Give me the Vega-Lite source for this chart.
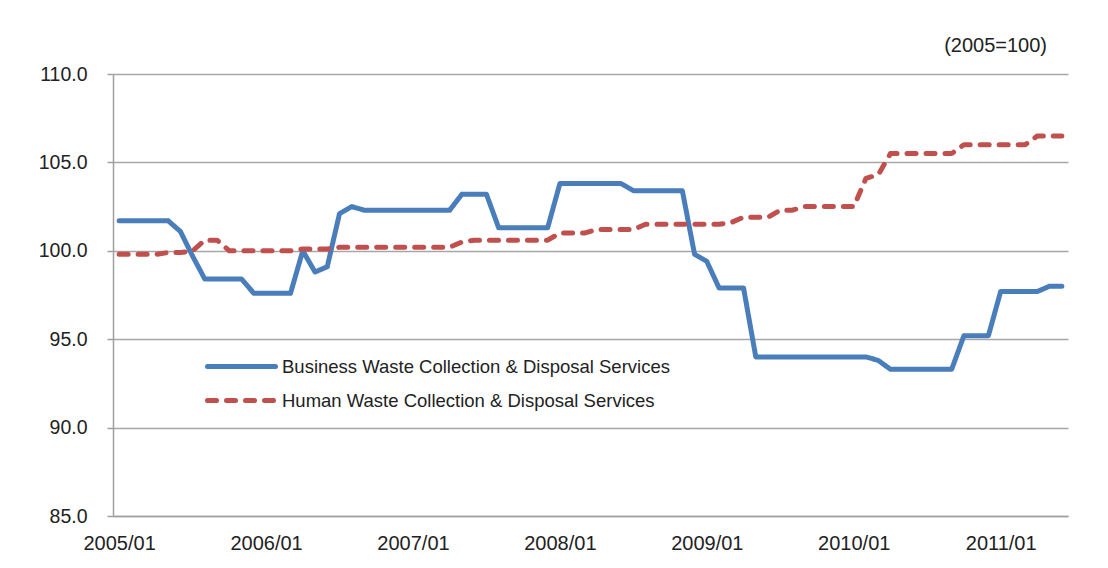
{
  "$schema": "https://vega.github.io/schema/vega-lite/v6.json",
  "autosize": {"type": "none"},
  "padding": {"left": 113, "top": 74, "right": 40, "bottom": 52},
  "width": 955,
  "height": 442,
  "background": "white",
  "title": {"text": "(2005=100)", "anchor": "end", "frame": "group", "dx": -21, "offset": 8, "fontSize": 20, "fontWeight": "normal", "color": "#222222", "font": "Liberation Sans"},
  "config": {
    "view": {"stroke": null},
    "font": "Liberation Sans",
    "legend": {
      "orient": "none", "legendX": 109, "legendY": 273, "padding": 0, "offset": 0,
      "symbolType": "M-2,0H2", "symbolSize": 1156, "symbolStrokeWidth": 5,
      "labelFontSize": 18.5, "labelColor": "#222222", "labelFont": "Liberation Sans", "labelOffset": 21,
      "rowPadding": 4, "labelLimit": 600
    }
  },
  "data": {"values": [
    {"m":"2005/01","s":"Business Waste Collection & Disposal Services","v":101.7},
    {"m":"2005/02","s":"Business Waste Collection & Disposal Services","v":101.7},
    {"m":"2005/03","s":"Business Waste Collection & Disposal Services","v":101.7},
    {"m":"2005/04","s":"Business Waste Collection & Disposal Services","v":101.7},
    {"m":"2005/05","s":"Business Waste Collection & Disposal Services","v":101.7},
    {"m":"2005/06","s":"Business Waste Collection & Disposal Services","v":101.1},
    {"m":"2005/07","s":"Business Waste Collection & Disposal Services","v":99.7},
    {"m":"2005/08","s":"Business Waste Collection & Disposal Services","v":98.4},
    {"m":"2005/09","s":"Business Waste Collection & Disposal Services","v":98.4},
    {"m":"2005/10","s":"Business Waste Collection & Disposal Services","v":98.4},
    {"m":"2005/11","s":"Business Waste Collection & Disposal Services","v":98.4},
    {"m":"2005/12","s":"Business Waste Collection & Disposal Services","v":97.6},
    {"m":"2006/01","s":"Business Waste Collection & Disposal Services","v":97.6},
    {"m":"2006/02","s":"Business Waste Collection & Disposal Services","v":97.6},
    {"m":"2006/03","s":"Business Waste Collection & Disposal Services","v":97.6},
    {"m":"2006/04","s":"Business Waste Collection & Disposal Services","v":100.0},
    {"m":"2006/05","s":"Business Waste Collection & Disposal Services","v":98.8},
    {"m":"2006/06","s":"Business Waste Collection & Disposal Services","v":99.1},
    {"m":"2006/07","s":"Business Waste Collection & Disposal Services","v":102.1},
    {"m":"2006/08","s":"Business Waste Collection & Disposal Services","v":102.5},
    {"m":"2006/09","s":"Business Waste Collection & Disposal Services","v":102.3},
    {"m":"2006/10","s":"Business Waste Collection & Disposal Services","v":102.3},
    {"m":"2006/11","s":"Business Waste Collection & Disposal Services","v":102.3},
    {"m":"2006/12","s":"Business Waste Collection & Disposal Services","v":102.3},
    {"m":"2007/01","s":"Business Waste Collection & Disposal Services","v":102.3},
    {"m":"2007/02","s":"Business Waste Collection & Disposal Services","v":102.3},
    {"m":"2007/03","s":"Business Waste Collection & Disposal Services","v":102.3},
    {"m":"2007/04","s":"Business Waste Collection & Disposal Services","v":102.3},
    {"m":"2007/05","s":"Business Waste Collection & Disposal Services","v":103.2},
    {"m":"2007/06","s":"Business Waste Collection & Disposal Services","v":103.2},
    {"m":"2007/07","s":"Business Waste Collection & Disposal Services","v":103.2},
    {"m":"2007/08","s":"Business Waste Collection & Disposal Services","v":101.3},
    {"m":"2007/09","s":"Business Waste Collection & Disposal Services","v":101.3},
    {"m":"2007/10","s":"Business Waste Collection & Disposal Services","v":101.3},
    {"m":"2007/11","s":"Business Waste Collection & Disposal Services","v":101.3},
    {"m":"2007/12","s":"Business Waste Collection & Disposal Services","v":101.3},
    {"m":"2008/01","s":"Business Waste Collection & Disposal Services","v":103.8},
    {"m":"2008/02","s":"Business Waste Collection & Disposal Services","v":103.8},
    {"m":"2008/03","s":"Business Waste Collection & Disposal Services","v":103.8},
    {"m":"2008/04","s":"Business Waste Collection & Disposal Services","v":103.8},
    {"m":"2008/05","s":"Business Waste Collection & Disposal Services","v":103.8},
    {"m":"2008/06","s":"Business Waste Collection & Disposal Services","v":103.8},
    {"m":"2008/07","s":"Business Waste Collection & Disposal Services","v":103.4},
    {"m":"2008/08","s":"Business Waste Collection & Disposal Services","v":103.4},
    {"m":"2008/09","s":"Business Waste Collection & Disposal Services","v":103.4},
    {"m":"2008/10","s":"Business Waste Collection & Disposal Services","v":103.4},
    {"m":"2008/11","s":"Business Waste Collection & Disposal Services","v":103.4},
    {"m":"2008/12","s":"Business Waste Collection & Disposal Services","v":99.8},
    {"m":"2009/01","s":"Business Waste Collection & Disposal Services","v":99.4},
    {"m":"2009/02","s":"Business Waste Collection & Disposal Services","v":97.9},
    {"m":"2009/03","s":"Business Waste Collection & Disposal Services","v":97.9},
    {"m":"2009/04","s":"Business Waste Collection & Disposal Services","v":97.9},
    {"m":"2009/05","s":"Business Waste Collection & Disposal Services","v":94.0},
    {"m":"2009/06","s":"Business Waste Collection & Disposal Services","v":94.0},
    {"m":"2009/07","s":"Business Waste Collection & Disposal Services","v":94.0},
    {"m":"2009/08","s":"Business Waste Collection & Disposal Services","v":94.0},
    {"m":"2009/09","s":"Business Waste Collection & Disposal Services","v":94.0},
    {"m":"2009/10","s":"Business Waste Collection & Disposal Services","v":94.0},
    {"m":"2009/11","s":"Business Waste Collection & Disposal Services","v":94.0},
    {"m":"2009/12","s":"Business Waste Collection & Disposal Services","v":94.0},
    {"m":"2010/01","s":"Business Waste Collection & Disposal Services","v":94.0},
    {"m":"2010/02","s":"Business Waste Collection & Disposal Services","v":94.0},
    {"m":"2010/03","s":"Business Waste Collection & Disposal Services","v":93.8},
    {"m":"2010/04","s":"Business Waste Collection & Disposal Services","v":93.3},
    {"m":"2010/05","s":"Business Waste Collection & Disposal Services","v":93.3},
    {"m":"2010/06","s":"Business Waste Collection & Disposal Services","v":93.3},
    {"m":"2010/07","s":"Business Waste Collection & Disposal Services","v":93.3},
    {"m":"2010/08","s":"Business Waste Collection & Disposal Services","v":93.3},
    {"m":"2010/09","s":"Business Waste Collection & Disposal Services","v":93.3},
    {"m":"2010/10","s":"Business Waste Collection & Disposal Services","v":95.2},
    {"m":"2010/11","s":"Business Waste Collection & Disposal Services","v":95.2},
    {"m":"2010/12","s":"Business Waste Collection & Disposal Services","v":95.2},
    {"m":"2011/01","s":"Business Waste Collection & Disposal Services","v":97.7},
    {"m":"2011/02","s":"Business Waste Collection & Disposal Services","v":97.7},
    {"m":"2011/03","s":"Business Waste Collection & Disposal Services","v":97.7},
    {"m":"2011/04","s":"Business Waste Collection & Disposal Services","v":97.7},
    {"m":"2011/05","s":"Business Waste Collection & Disposal Services","v":98.0},
    {"m":"2011/06","s":"Business Waste Collection & Disposal Services","v":98.0},
    {"m":"2005/01","s":"Human Waste Collection & Disposal Services","v":99.8},
    {"m":"2005/02","s":"Human Waste Collection & Disposal Services","v":99.8},
    {"m":"2005/03","s":"Human Waste Collection & Disposal Services","v":99.8},
    {"m":"2005/04","s":"Human Waste Collection & Disposal Services","v":99.8},
    {"m":"2005/05","s":"Human Waste Collection & Disposal Services","v":99.9},
    {"m":"2005/06","s":"Human Waste Collection & Disposal Services","v":99.9},
    {"m":"2005/07","s":"Human Waste Collection & Disposal Services","v":100.0},
    {"m":"2005/08","s":"Human Waste Collection & Disposal Services","v":100.6},
    {"m":"2005/09","s":"Human Waste Collection & Disposal Services","v":100.6},
    {"m":"2005/10","s":"Human Waste Collection & Disposal Services","v":100.0},
    {"m":"2005/11","s":"Human Waste Collection & Disposal Services","v":100.0},
    {"m":"2005/12","s":"Human Waste Collection & Disposal Services","v":100.0},
    {"m":"2006/01","s":"Human Waste Collection & Disposal Services","v":100.0},
    {"m":"2006/02","s":"Human Waste Collection & Disposal Services","v":100.0},
    {"m":"2006/03","s":"Human Waste Collection & Disposal Services","v":100.0},
    {"m":"2006/04","s":"Human Waste Collection & Disposal Services","v":100.1},
    {"m":"2006/05","s":"Human Waste Collection & Disposal Services","v":100.1},
    {"m":"2006/06","s":"Human Waste Collection & Disposal Services","v":100.1},
    {"m":"2006/07","s":"Human Waste Collection & Disposal Services","v":100.2},
    {"m":"2006/08","s":"Human Waste Collection & Disposal Services","v":100.2},
    {"m":"2006/09","s":"Human Waste Collection & Disposal Services","v":100.2},
    {"m":"2006/10","s":"Human Waste Collection & Disposal Services","v":100.2},
    {"m":"2006/11","s":"Human Waste Collection & Disposal Services","v":100.2},
    {"m":"2006/12","s":"Human Waste Collection & Disposal Services","v":100.2},
    {"m":"2007/01","s":"Human Waste Collection & Disposal Services","v":100.2},
    {"m":"2007/02","s":"Human Waste Collection & Disposal Services","v":100.2},
    {"m":"2007/03","s":"Human Waste Collection & Disposal Services","v":100.2},
    {"m":"2007/04","s":"Human Waste Collection & Disposal Services","v":100.2},
    {"m":"2007/05","s":"Human Waste Collection & Disposal Services","v":100.5},
    {"m":"2007/06","s":"Human Waste Collection & Disposal Services","v":100.6},
    {"m":"2007/07","s":"Human Waste Collection & Disposal Services","v":100.6},
    {"m":"2007/08","s":"Human Waste Collection & Disposal Services","v":100.6},
    {"m":"2007/09","s":"Human Waste Collection & Disposal Services","v":100.6},
    {"m":"2007/10","s":"Human Waste Collection & Disposal Services","v":100.6},
    {"m":"2007/11","s":"Human Waste Collection & Disposal Services","v":100.6},
    {"m":"2007/12","s":"Human Waste Collection & Disposal Services","v":100.6},
    {"m":"2008/01","s":"Human Waste Collection & Disposal Services","v":101.0},
    {"m":"2008/02","s":"Human Waste Collection & Disposal Services","v":101.0},
    {"m":"2008/03","s":"Human Waste Collection & Disposal Services","v":101.0},
    {"m":"2008/04","s":"Human Waste Collection & Disposal Services","v":101.2},
    {"m":"2008/05","s":"Human Waste Collection & Disposal Services","v":101.2},
    {"m":"2008/06","s":"Human Waste Collection & Disposal Services","v":101.2},
    {"m":"2008/07","s":"Human Waste Collection & Disposal Services","v":101.2},
    {"m":"2008/08","s":"Human Waste Collection & Disposal Services","v":101.5},
    {"m":"2008/09","s":"Human Waste Collection & Disposal Services","v":101.5},
    {"m":"2008/10","s":"Human Waste Collection & Disposal Services","v":101.5},
    {"m":"2008/11","s":"Human Waste Collection & Disposal Services","v":101.5},
    {"m":"2008/12","s":"Human Waste Collection & Disposal Services","v":101.5},
    {"m":"2009/01","s":"Human Waste Collection & Disposal Services","v":101.5},
    {"m":"2009/02","s":"Human Waste Collection & Disposal Services","v":101.5},
    {"m":"2009/03","s":"Human Waste Collection & Disposal Services","v":101.6},
    {"m":"2009/04","s":"Human Waste Collection & Disposal Services","v":101.9},
    {"m":"2009/05","s":"Human Waste Collection & Disposal Services","v":101.9},
    {"m":"2009/06","s":"Human Waste Collection & Disposal Services","v":101.9},
    {"m":"2009/07","s":"Human Waste Collection & Disposal Services","v":102.3},
    {"m":"2009/08","s":"Human Waste Collection & Disposal Services","v":102.3},
    {"m":"2009/09","s":"Human Waste Collection & Disposal Services","v":102.5},
    {"m":"2009/10","s":"Human Waste Collection & Disposal Services","v":102.5},
    {"m":"2009/11","s":"Human Waste Collection & Disposal Services","v":102.5},
    {"m":"2009/12","s":"Human Waste Collection & Disposal Services","v":102.5},
    {"m":"2010/01","s":"Human Waste Collection & Disposal Services","v":102.5},
    {"m":"2010/02","s":"Human Waste Collection & Disposal Services","v":104.1},
    {"m":"2010/03","s":"Human Waste Collection & Disposal Services","v":104.3},
    {"m":"2010/04","s":"Human Waste Collection & Disposal Services","v":105.5},
    {"m":"2010/05","s":"Human Waste Collection & Disposal Services","v":105.5},
    {"m":"2010/06","s":"Human Waste Collection & Disposal Services","v":105.5},
    {"m":"2010/07","s":"Human Waste Collection & Disposal Services","v":105.5},
    {"m":"2010/08","s":"Human Waste Collection & Disposal Services","v":105.5},
    {"m":"2010/09","s":"Human Waste Collection & Disposal Services","v":105.5},
    {"m":"2010/10","s":"Human Waste Collection & Disposal Services","v":106.0},
    {"m":"2010/11","s":"Human Waste Collection & Disposal Services","v":106.0},
    {"m":"2010/12","s":"Human Waste Collection & Disposal Services","v":106.0},
    {"m":"2011/01","s":"Human Waste Collection & Disposal Services","v":106.0},
    {"m":"2011/02","s":"Human Waste Collection & Disposal Services","v":106.0},
    {"m":"2011/03","s":"Human Waste Collection & Disposal Services","v":106.0},
    {"m":"2011/04","s":"Human Waste Collection & Disposal Services","v":106.5},
    {"m":"2011/05","s":"Human Waste Collection & Disposal Services","v":106.5},
    {"m":"2011/06","s":"Human Waste Collection & Disposal Services","v":106.5}
  ]},
  "mark": {"type": "line", "strokeWidth": 5, "strokeCap": "round", "strokeJoin": "round"},
  "encoding": {
    "x": {
      "field": "m", "type": "ordinal", "sort": null,
      "scale": {"type": "point", "padding": 0.5},
      "axis": {
        "title": null, "values": ["2005/01","2006/01","2007/01","2008/01","2009/01","2010/01","2011/01"],
        "labelAngle": 0, "ticks": false, "grid": false, "domainColor": "#A0A0A0", "domainWidth": 1.5,
        "labelFontSize": 20, "labelColor": "#222222", "labelPadding": 17, "labelFont": "Liberation Sans"
      }
    },
    "y": {
      "field": "v", "type": "quantitative",
      "scale": {"domain": [85, 110], "nice": false, "zero": false},
      "axis": {
        "title": null, "values": [85, 90, 95, 100, 105, 110], "format": ".1f",
        "grid": true, "gridColor": "#A6A6A6", "gridWidth": 1.5,
        "domainColor": "#A0A0A0", "domainWidth": 1.5, "tickColor": "#A0A0A0", "tickSize": 6, "tickWidth": 1.5,
        "labelFontSize": 19.5, "labelColor": "#222222", "labelPadding": 20, "labelFont": "Liberation Sans"
      }
    },
    "color": {
      "field": "s", "type": "nominal", "title": null,
      "scale": {"domain": ["Business Waste Collection & Disposal Services", "Human Waste Collection & Disposal Services"], "range": ["#4A7EBB", "#C0504D"]},
      "legend": {"title": null, "encode": {"symbols": {"update": {"strokeCap": {"value": "round"}}}}}
    },
    "strokeDash": {
      "field": "s", "type": "nominal", "title": null,
      "scale": {"domain": ["Business Waste Collection & Disposal Services", "Human Waste Collection & Disposal Services"], "range": [[1, 0], [9, 10]]}
    }
  }
}
